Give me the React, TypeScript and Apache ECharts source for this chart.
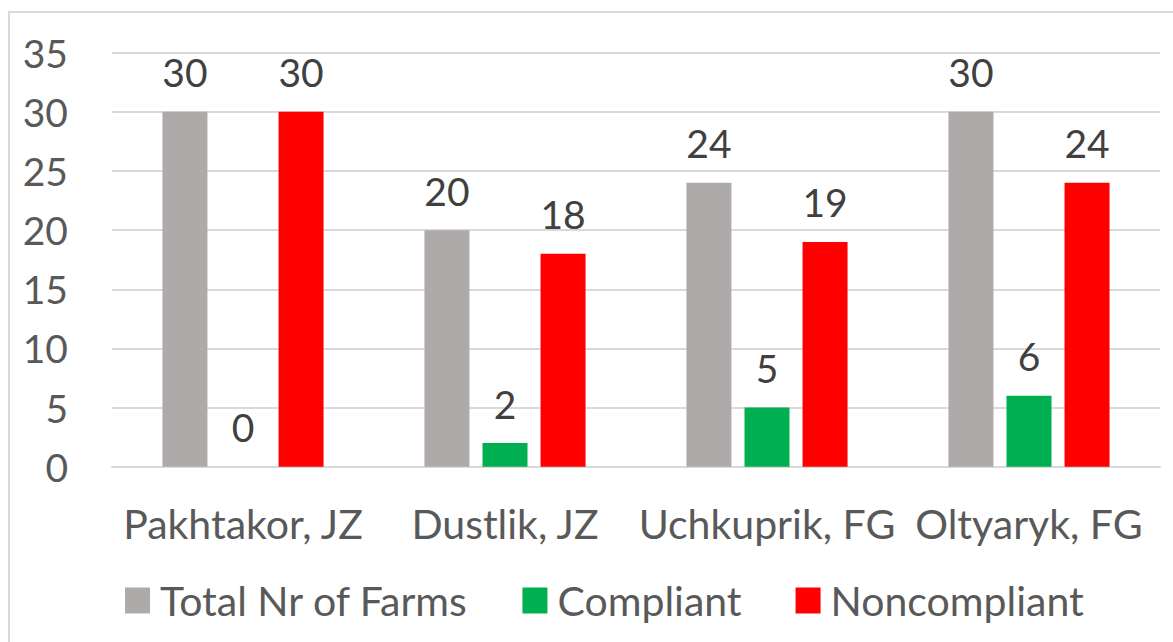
import React, { useEffect, useRef } from "react";
import * as echarts from "echarts";

const categories = ["Pakhtakor, JZ", "Dustlik, JZ", "Uchkuprik, FG", "Oltyaryk, FG"];
const totalFarms = [30, 20, 24, 30];
const compliant = [0, 2, 5, 6];
const noncompliant = [30, 18, 19, 24];
const seriesNames = ["Total Nr of Farms", "Compliant", "Noncompliant"];
const yTicks = { min: 0, max: 35, interval: 5 };

const FONT = "Lato, 'Open Sans', sans-serif";

export default function App() {
  const ref = useRef<HTMLDivElement>(null);
  useEffect(() => {
    document.body.style.margin = "0";
    const chart = echarts.init(ref.current!, null, { renderer: "svg" });
    const label = {
      show: true,
      position: "top",
      distance: 20,
      fontSize: 39,
      color: "#404040",
      fontFamily: FONT,
    };
    const colors = ["#AEAAAA", "#00B050", "#FF0000"];
    const data = [totalFarms, compliant, noncompliant];
    chart.setOption({
      animation: false,
      backgroundColor: "#ffffff",
      graphic: [
        {
          type: "rect",
          shape: { x: 9, y: 12, width: 1200, height: 700 },
          style: { fill: "none", stroke: "#D9D9D9", lineWidth: 2 },
          silent: true,
        },
      ],
      grid: { left: 112, right: 13, top: 52.7, bottom: 175.3 },
      legend: {
        left: 120,
        top: 575,
        itemWidth: 25,
        itemHeight: 26,
        itemGap: 54,
        icon: "rect",
        textStyle: { fontSize: 41, color: "#595959", fontFamily: FONT, padding: [0, 0, 0, 5] },
        data: seriesNames,
      },
      xAxis: {
        type: "category",
        data: categories,
        axisLine: { lineStyle: { color: "#D9D9D9", width: 2 } },
        axisTick: { show: false },
        axisLabel: { fontSize: 41, color: "#595959", fontFamily: FONT, margin: 36, interval: 0 },
      },
      yAxis: {
        type: "value",
        min: yTicks.min,
        max: yTicks.max,
        interval: yTicks.interval,
        axisLine: { show: false },
        axisTick: { show: false },
        splitLine: { lineStyle: { color: "#D9D9D9", width: 2 } },
        axisLabel: { fontSize: 39, color: "#595959", fontFamily: FONT, margin: 44 },
      },
      series: seriesNames.map((name, i) => ({
        name,
        type: "bar",
        data: data[i],
        barWidth: 45,
        barGap: "29%",
        itemStyle: { color: colors[i] },
        label,
      })),
    });
    return () => chart.dispose();
  }, []);
  return <div ref={ref} style={{ width: 1173, height: 642 }} />;
}
